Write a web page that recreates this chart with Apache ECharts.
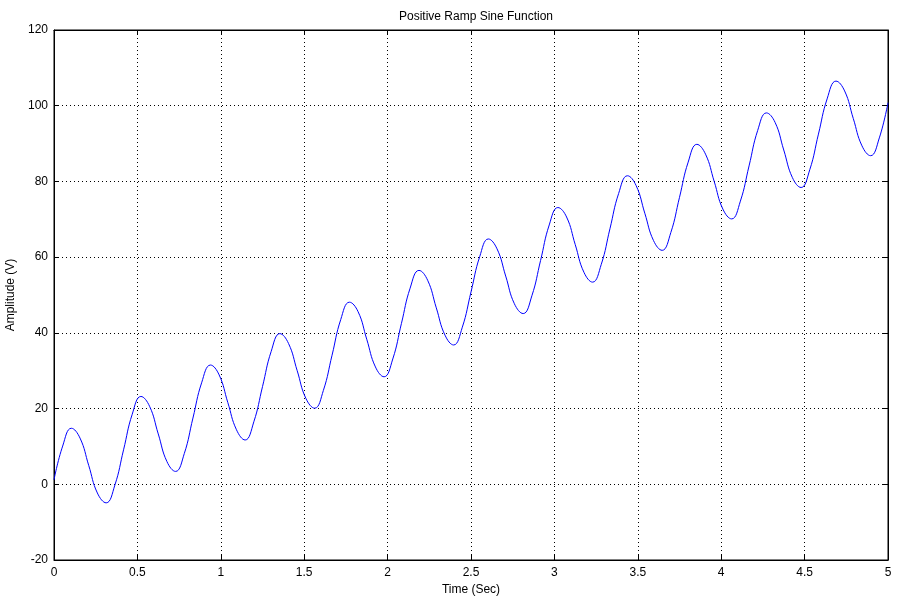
<!DOCTYPE html>
<html>
<head>
<meta charset="utf-8">
<script src="https://cdn.jsdelivr.net/npm/echarts@6/dist/echarts.min.js"></script>
<style>
  html, body { margin: 0; padding: 0; background: #fff; }
  #main { width: 900px; height: 603px; }
</style>
</head>
<body>
<div id="main"></div>
<script>
// time samples (s)
var times = [
    0, 0.052, 0.104, 0.156, 0.208, 0.260, 0.313, 0.365, 0.417, 0.469, 0.521, 0.573,
    0.625, 0.677, 0.729, 0.781, 0.833, 0.885, 0.938, 0.990, 1.042, 1.094, 1.146, 1.198,
    1.250, 1.302, 1.354, 1.406, 1.458, 1.510, 1.563, 1.615, 1.667, 1.719, 1.771, 1.823,
    1.875, 1.927, 1.979, 2.031, 2.083, 2.135, 2.188, 2.240, 2.292, 2.344, 2.396, 2.448,
    2.500, 2.552, 2.604, 2.656, 2.708, 2.760, 2.813, 2.865, 2.917, 2.969, 3.021, 3.073,
    3.125, 3.177, 3.229, 3.281, 3.333, 3.385, 3.438, 3.490, 3.542, 3.594, 3.646, 3.698,
    3.750, 3.802, 3.854, 3.906, 3.958, 4.010, 4.063, 4.115, 4.167, 4.219, 4.271, 4.323,
    4.375, 4.427, 4.479, 4.531, 4.583, 4.635, 4.688, 4.740, 4.792, 4.844, 4.896, 4.948,
    5.000
];
// amplitude (V) at each sample
var amplitude = [
    1.2, 10.1, 14.8, 12.2, 5.0, -2.3, -4.9, -0.2, 9.1, 18.5, 23.2, 20.6,
    13.3, 6.0, 3.4, 8.1, 17.5, 26.8, 31.5, 28.9, 21.6, 14.4, 11.7, 16.5,
    25.8, 35.1, 39.8, 37.2, 30.0, 22.7, 20.1, 24.8, 34.1, 43.5, 48.1, 45.6,
    38.3, 31.0, 28.4, 33.1, 42.5, 51.8, 56.5, 53.9, 46.6, 39.4, 36.8, 41.5,
    50.8, 60.1, 64.8, 62.2, 55.0, 47.7, 45.1, 49.8, 59.1, 68.5, 73.1, 70.6,
    63.3, 56.0, 53.4, 58.1, 67.5, 76.8, 81.5, 78.9, 71.6, 64.4, 61.8, 66.5,
    75.8, 85.1, 89.8, 87.2, 80.0, 72.7, 70.1, 74.8, 84.1, 93.5, 98.1, 95.6,
    88.3, 81.0, 78.4, 83.1, 92.5, 101.8, 106.5, 103.9, 96.6, 89.4, 86.8, 91.5,
    100.8
];
var xTicks = [0, 0.5, 1, 1.5, 2, 2.5, 3, 3.5, 4, 4.5, 5];
var yTicks = [-20, 0, 20, 40, 60, 80, 100, 120];

var font = '"Liberation Sans", Arial, sans-serif';

var points = [];
for (var i = 0; i < times.length; i++) {
    points.push([times[i], amplitude[i]]);
}

var myChart = echarts.init(document.getElementById('main'), null, { renderer: 'canvas' });

var gridLine = {
    show: true,
    lineStyle: { color: '#000', width: 1, type: [1, 3] }
};

var option = {
    backgroundColor: '#fff',
    animation: false,
    title: {
        text: 'Positive Ramp Sine Function',
        left: 471,
        textAlign: 'center',
        top: 6,
        textStyle: { fontFamily: font, fontSize: 12, fontWeight: 'normal', color: '#000' }
    },
    grid: {
        left: 54,
        right: 12,
        top: 30,
        bottom: 43,
        outerBoundsMode: 'none',
        containLabel: false,
        show: true,
        borderColor: '#000',
        borderWidth: 1
    },
    xAxis: [
        {
            type: 'value',
            min: xTicks[0],
            max: xTicks[xTicks.length - 1],
            interval: 0.5,
            position: 'bottom',
            name: 'Time (Sec)',
            nameLocation: 'middle',
            nameGap: 22,
            nameTextStyle: { fontFamily: font, fontSize: 12, color: '#000' },
            axisLine: { show: true, onZero: false, lineStyle: { color: '#000' } },
            axisTick: { show: true, inside: true, length: 5, lineStyle: { color: '#000' } },
            axisLabel: {
                fontFamily: font, fontSize: 12, color: '#000', margin: 7,
                formatter: function (v) { return String(v); }
            },
            splitLine: gridLine
        },
        {
            type: 'value',
            min: xTicks[0],
            max: xTicks[xTicks.length - 1],
            interval: 0.5,
            position: 'top',
            axisLine: { show: true, onZero: false, lineStyle: { color: '#000' } },
            axisTick: { show: true, inside: true, length: 5, lineStyle: { color: '#000' } },
            axisLabel: { show: false },
            splitLine: { show: false }
        }
    ],
    yAxis: [
        {
            type: 'value',
            min: yTicks[0],
            max: yTicks[yTicks.length - 1],
            interval: 20,
            position: 'left',
            name: 'Amplitude (V)',
            nameLocation: 'middle',
            nameGap: 36,
            nameTextStyle: { fontFamily: font, fontSize: 12, color: '#000' },
            axisLine: { show: true, onZero: false, lineStyle: { color: '#000' } },
            axisTick: { show: true, inside: true, length: 5, lineStyle: { color: '#000' } },
            axisLabel: { fontFamily: font, fontSize: 12, color: '#000', margin: 6 },
            splitLine: gridLine
        },
        {
            type: 'value',
            min: yTicks[0],
            max: yTicks[yTicks.length - 1],
            interval: 20,
            position: 'right',
            axisLine: { show: true, onZero: false, lineStyle: { color: '#000' } },
            axisTick: { show: true, inside: true, length: 5, lineStyle: { color: '#000' } },
            axisLabel: { show: false },
            splitLine: { show: false }
        }
    ],
    series: [
        {
            name: 'Amplitude',
            type: 'line',
            data: points,
            smooth: 0.45,
            showSymbol: false,
            lineStyle: { color: '#0000ff', width: 1 },
            itemStyle: { color: '#0000ff' }
        }
    ]
};
myChart.setOption(option);
</script>
</body>
</html>
